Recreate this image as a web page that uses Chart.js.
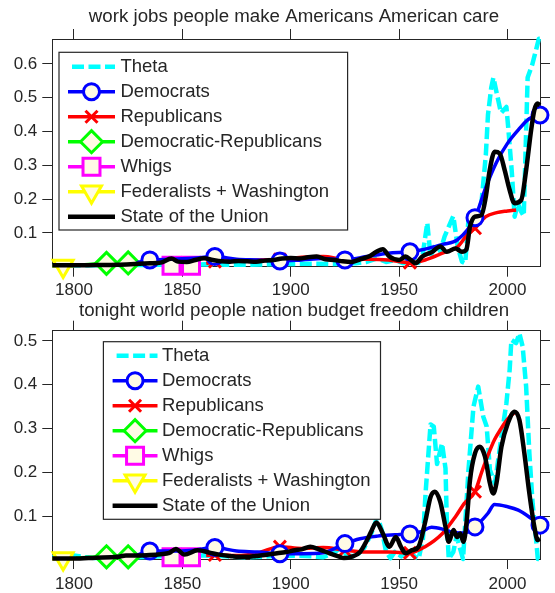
<!DOCTYPE html>
<html>
<head>
<meta charset="utf-8">
<script src="https://cdn.jsdelivr.net/npm/chart.js@4/dist/chart.umd.min.js"></script>
<style>
  html, body { margin: 0; padding: 0; background: #fff; }
  #wrap { position: relative; width: 555px; height: 593px; overflow: hidden; background: #fff; }
  .panel { position: absolute; left: 0; width: 555px; }
  #p1 { top: 0; height: 300px; }
  #p2 { top: 298px; height: 295px; }
</style>
</head>
<body>
<div id="wrap">
  <div class="panel" id="p1"><canvas id="c1"></canvas></div>
  <div class="panel" id="p2"><canvas id="c2"></canvas></div>
</div>
<script>
// ---------- axes ----------
const yearTicks = [1800, 1850, 1900, 1950, 2000];
const topYTicks = [0.1, 0.2, 0.3, 0.4, 0.5, 0.6];
const botYTicks = [0.1, 0.2, 0.3, 0.4, 0.5];

// ---------- legend labels ----------
const seriesNames = ['Theta', 'Democrats', 'Republicans', 'Democratic-Republicans',
  'Whigs', 'Federalists + Washington', 'State of the Union'];

// ---------- panel titles ----------
const topTitle = 'work jobs people make Americans American care';
const botTitle = 'tonight world people nation budget freedom children';

// ---------- years carrying a marker ----------
const demMarks = [1835, 1865, 1895, 1925, 1955, 1985, 2015];
const repMarks = [1865, 1895, 1925, 1955, 1985];
const drMarks = [1815, 1825];
const whigMarks = [1845, 1854];
const fedMarks = [1795];

// ---------- upper panel ----------
const topThetaX = [1790, 1800, 1810, 1820, 1830, 1840, 1850, 1860, 1870, 1880, 1890, 1900, 1910, 1920,
  1930, 1935, 1940, 1944, 1948, 1952, 1956, 1959, 1961, 1963, 1964.5, 1967, 1969, 1971, 1973, 1975,
  1977, 1979, 1980.5, 1982, 1984, 1986, 1988, 1990, 1991, 1992.5, 1993.5, 1995.5, 1997, 1999.5,
  2000.5, 2002, 2003.3, 2004.8, 2006.3, 2007.5, 2009.3, 2011.5, 2013.5, 2014.5, 2015];
const topThetaY = [0.003, 0.004, 0.004, 0.005, 0.005, 0.006, 0.006, 0.007, 0.006, 0.006, 0.007, 0.008, 0.009, 0.008,
  0.01, 0.014, 0.025, 0.014, 0.02, 0.01, 0.022, 0.012, 0.04, 0.13, 0.03, 0.07, 0.045, 0.09, 0.12, 0.15,
  0.06, 0.015, 0.01, 0.14, 0.16, 0.15, 0.19, 0.33, 0.45, 0.53, 0.56, 0.5, 0.455, 0.473,
  0.40, 0.28, 0.148, 0.188, 0.163, 0.15, 0.56, 0.6, 0.65, 0.675, 0.675];

const topDemX = [1829, 1835, 1845, 1855, 1865, 1875, 1885, 1895, 1905, 1915, 1925, 1935, 1945, 1955,
  1962, 1970, 1977, 1985, 1990, 1995, 2000, 2005, 2010, 2015];
const topDemY = [0.012, 0.02, 0.022, 0.025, 0.03, 0.022, 0.02, 0.017, 0.02, 0.024, 0.02, 0.03, 0.04, 0.044,
  0.052, 0.066, 0.08, 0.145, 0.235, 0.31, 0.365, 0.405, 0.438, 0.449];

const topRepX = [1861, 1865, 1875, 1885, 1895, 1905, 1915, 1925, 1935, 1945, 1955, 1962, 1970, 1977,
  1982, 1985, 1990, 1995, 2000, 2004];
const topRepY = [0.01, 0.015, 0.017, 0.02, 0.022, 0.028, 0.03, 0.022, 0.022, 0.02, 0.012, 0.02, 0.04, 0.059,
  0.099, 0.114, 0.148, 0.16, 0.165, 0.168];

const topDrX = [1801, 1805, 1810, 1815, 1820, 1825, 1829];
const topDrY = [0.004, 0.006, 0.008, 0.01, 0.011, 0.011, 0.01];

const topWhigX = [1841, 1845, 1850, 1854];
const topWhigY = [0.003, 0.003, 0.004, 0.003];

const topFedX = [1790, 1795, 1800];
const topFedY = [0.002, 0.002, 0.003];

const topSotuX = [1790, 1800, 1810, 1820, 1828, 1835, 1840, 1845, 1848, 1852, 1856, 1860, 1864, 1868,
  1872, 1876, 1880, 1884, 1888, 1892, 1896, 1900, 1904, 1908, 1912, 1916, 1920, 1924, 1928, 1932, 1936,
  1939.5, 1942.5, 1945.5, 1950, 1953, 1955.4, 1957.6, 1960.7, 1965.3, 1969, 1972, 1976, 1979, 1981,
  1982.7, 1985, 1988, 1990, 1991.8, 1994.1, 1996.4, 1998.7, 2001, 2003.2, 2006.3, 2008.6, 2010.9,
  2012.4, 2013.9, 2015];
const topSotuY = [0.004, 0.004, 0.005, 0.006, 0.008, 0.01, 0.012, 0.024, 0.015, 0.014, 0.02, 0.025, 0.02, 0.016,
  0.015, 0.017, 0.016, 0.015, 0.018, 0.02, 0.024, 0.026, 0.024, 0.028, 0.03, 0.022, 0.02, 0.016, 0.014, 0.022, 0.03,
  0.044, 0.052, 0.03, 0.02, 0.03, 0.02, 0.01, 0.03, 0.044, 0.06, 0.044, 0.054, 0.044, 0.05,
  0.118, 0.148, 0.153, 0.207, 0.286, 0.34, 0.335, 0.286, 0.227, 0.188, 0.197, 0.286, 0.404,
  0.464, 0.483, 0.478];

// ---------- lower panel ----------
const botThetaX = [1790, 1795, 1800, 1805, 1810, 1820, 1830, 1840, 1850, 1860, 1870, 1880, 1890, 1900,
  1910, 1915, 1920, 1923, 1926, 1930, 1934, 1937, 1940, 1942, 1944, 1946, 1948, 1951, 1954, 1957,
  1959, 1961, 1962.2, 1964.5, 1966, 1967.5, 1969.8, 1971.4, 1972, 1972.9, 1975, 1976.5, 1978,
  1979.5, 1982, 1984.3, 1986.5, 1988.8, 1990.4, 1991.9, 1994.2, 1997.2, 1999.5, 2001, 2001.8, 2004,
  2005.5, 2007, 2008.6, 2010.1, 2011.6, 2013.1, 2014, 2015];
const botThetaY = [0.008, 0.01, 0.012, 0.008, 0.006, 0.007, 0.008, 0.01, 0.012, 0.012, 0.01, 0.008, 0.01, 0.012,
  0.01, 0.008, 0.018, 0.03, 0.012, 0.01, 0.03, 0.06, 0.1, 0.07, 0.02, 0.006, 0.02, 0.01, 0.03, 0.01,
  0.004, 0.05, 0.153, 0.31, 0.305, 0.22, 0.267, 0.21, 0.092, 0.004, 0.02, 0.055, 0.03,
  0.004, 0.206, 0.35, 0.396, 0.328, 0.305, 0.206, 0.176, 0.282, 0.358, 0.434, 0.502, 0.495,
  0.517, 0.487, 0.396, 0.244, 0.13, 0.054, 0.004, 0.004];

const botDemX = [1829, 1835, 1845, 1855, 1865, 1875, 1885, 1895, 1905, 1915, 1925, 1932, 1940, 1948,
  1955, 1960, 1965, 1970, 1975, 1980, 1985, 1991, 1994, 2000, 2005, 2011, 2015];
const botDemY = [0.012, 0.022, 0.022, 0.024, 0.03, 0.022, 0.02, 0.016, 0.016, 0.018, 0.039, 0.05, 0.056, 0.059,
  0.061, 0.066, 0.076, 0.072, 0.064, 0.063, 0.077, 0.108, 0.128, 0.123, 0.115, 0.096, 0.081];

const botRepX = [1861, 1865, 1875, 1885, 1895, 1905, 1915, 1925, 1935, 1945, 1955, 1962, 1970, 1976,
  1980, 1985, 1988, 1991, 1994, 1997, 2000, 2004];
const botRepY = [0.012, 0.013, 0.012, 0.018, 0.032, 0.028, 0.03, 0.024, 0.02, 0.02, 0.018, 0.032, 0.062, 0.1,
  0.13, 0.157, 0.2, 0.24, 0.275, 0.3, 0.322, 0.34];

const botDrX = [1801, 1808, 1815, 1820, 1825, 1829];
const botDrY = [0.006, 0.008, 0.009, 0.009, 0.009, 0.01];

const botWhigX = [1841, 1845, 1850, 1854];
const botWhigY = [0.008, 0.008, 0.008, 0.008];

const botFedX = [1790, 1795, 1800];
const botFedY = [0.004, 0.005, 0.005];

const botSotuX = [1790, 1800, 1810, 1820, 1824, 1830, 1835, 1840, 1844, 1847, 1851, 1857, 1863, 1867,
  1872, 1876, 1880, 1884, 1888, 1892, 1898, 1902, 1905, 1909, 1913, 1918, 1922, 1924.5, 1928, 1932,
  1935, 1937, 1939.5, 1942.5, 1945.5, 1948.5, 1950.8, 1953, 1956, 1959, 1962.2, 1964.5, 1966.5,
  1969, 1971.4, 1972.9, 1975.1, 1976.7, 1978.2, 1979.7, 1981.2, 1982.7, 1985, 1987.3, 1989.6, 1991.9,
  1993.4, 1994.9, 1997.2, 2000.2, 2003.3, 2005.5, 2007.8, 2010.1, 2012.4, 2013.9, 2015];
const botSotuY = [0.005, 0.005, 0.007, 0.009, 0.012, 0.012, 0.013, 0.015, 0.018, 0.027, 0.014, 0.024, 0.018, 0.014,
  0.011, 0.009, 0.009, 0.011, 0.013, 0.016, 0.02, 0.024, 0.026, 0.032, 0.026, 0.017, 0.01, 0.006, 0.009, 0.02,
  0.045, 0.065, 0.087, 0.062, 0.032, 0.054, 0.032, 0.017, 0.024, 0.032, 0.092, 0.145, 0.157,
  0.134, 0.077, 0.043, 0.07, 0.054, 0.062, 0.043, 0.092, 0.183, 0.244, 0.259, 0.237, 0.176,
  0.153, 0.176, 0.259, 0.313, 0.339, 0.32, 0.244, 0.153, 0.077, 0.047, 0.05];

// ---------- look ----------
const FONT = '"Liberation Sans", Arial, Helvetica, sans-serif';
const INK = '#262626';
const CREAM = '#fffbe5';

const pts = (xs, ys) => xs.map((x, i) => ({ x, y: ys[i] }));

// one entry per legend row, same order as seriesNames
const seriesLook = [
  { color: '#00ffff', width: 4.5, dash: [12, 4.5], order: 6 },
  { color: '#0000ff', width: 3.5, marker: 'circle', r: 8, rot: 0, marks: demMarks, order: 1, smooth: true },
  { color: '#ff0000', width: 3.5, marker: 'crossRot', r: 8.5, rot: 0, marks: repMarks, order: 2, smooth: true },
  { color: '#00ff00', width: 3.5, marker: 'rectRot', r: 11, rot: 0, marks: drMarks, order: 3, smooth: true },
  { color: '#ff00ff', width: 3.5, marker: 'rect', r: 12, rot: 0, marks: whigMarks, order: 4, smooth: true },
  { color: '#ffff00', width: 3.5, marker: 'triangle', r: 11.5, rot: 180, marks: fedMarks, order: 5, smooth: true },
  { color: '#000000', width: 4.5, order: 0, smooth: true }
];

function makeDatasets(series) {
  return series.map((data, i) => {
    const look = seriesLook[i];
    const ds = {
      label: seriesNames[i],
      data,
      borderColor: look.color,
      borderWidth: look.width,
      borderDash: look.dash || [],
      backgroundColor: look.color,
      fill: false,
      order: look.order,
      clip: false,
      tension: look.smooth ? 0.4 : 0,
      cubicInterpolationMode: look.smooth ? 'monotone' : 'default',
      borderCapStyle: 'butt',
      borderJoinStyle: 'round',
      pointStyle: look.marker || 'circle',
      pointRotation: look.rot || 0,
      pointBorderColor: look.color,
      pointBackgroundColor: CREAM,
      pointBorderWidth: 3,
      pointRadius: (c) => (look.marks && c.raw && look.marks.includes(c.raw.x)) ? look.r : 0,
      pointHoverRadius: 0
    };
    ds._look = look;
    return ds;
  });
}

// panel heading plus a framed legend with a line sample and marker per series
const panelDecor = {
  id: 'panelDecor',
  afterDraw(chart, args, o) {
    const ctx = chart.ctx;
    ctx.save();
    ctx.fillStyle = INK;
    ctx.font = '18.7px ' + FONT;
    ctx.textAlign = 'center';
    ctx.textBaseline = 'middle';
    ctx.fillText(o.title, o.titleX, o.titleY);

    const L = o.legend;
    ctx.fillStyle = '#ffffff';
    ctx.fillRect(L.x0, L.y0, L.x1 - L.x0, L.y1 - L.y0);
    ctx.strokeStyle = INK;
    ctx.lineWidth = 1.2;
    ctx.strokeRect(L.x0, L.y0, L.x1 - L.x0, L.y1 - L.y0);
    chart.data.datasets.forEach((ds, i) => {
      const look = ds._look;
      const y = L.row0 + i * L.step;
      ctx.save();
      ctx.beginPath();
      ctx.setLineDash(look.dash || []);
      if (look.dash) ctx.lineDashOffset = -4;
      ctx.strokeStyle = look.color;
      ctx.lineWidth = look.width;
      ctx.lineCap = 'butt';
      ctx.moveTo(L.lx0, y);
      ctx.lineTo(L.lx1, y);
      ctx.stroke();
      ctx.setLineDash([]);
      if (look.marker) {
        ctx.strokeStyle = look.color;
        ctx.fillStyle = CREAM;
        ctx.lineWidth = 3;
        Chart.helpers.drawPoint(ctx, {
          pointStyle: look.marker, rotation: look.rot || 0, radius: look.r, borderWidth: 3
        }, (L.lx0 + L.lx1) / 2, y);
      }
      ctx.restore();
      ctx.fillStyle = INK;
      ctx.font = '18.5px ' + FONT;
      ctx.textBaseline = 'middle';
      ctx.textAlign = 'left';
      ctx.fillText(ds.label, L.tx, y + 0.5);
    });
    ctx.restore();
  }
};

function scaleSet(cfg) {
  const tickFont = { family: FONT, size: 17 };
  const gridOpts = { drawOnChartArea: false, drawTicks: true, tickLength: 10, color: INK, lineWidth: 1 };
  const borderOpts = { display: true, color: INK, width: 1 };
  const yearBuild = (s) => { s.ticks = yearTicks.map(v => ({ value: v })); };
  const valBuild = (s) => { s.ticks = cfg.yTicks.map(v => ({ value: v })); };
  return {
    x: {
      type: 'linear', position: 'bottom', min: 1790, max: 2015,
      afterBuildTicks: yearBuild,
      afterFit: (s) => { s.height = cfg.xAxisH; },
      grid: gridOpts, border: borderOpts,
      ticks: { padding: cfg.xPad, color: INK, font: tickFont, maxRotation: 0, minRotation: 0,
        autoSkip: false, callback: (v) => String(v) }
    },
    xTop: {
      type: 'linear', position: 'top', min: 1790, max: 2015,
      afterBuildTicks: yearBuild,
      afterFit: (s) => { s.height = 10; },
      grid: gridOpts, border: borderOpts,
      ticks: { display: false }
    },
    y: {
      type: 'linear', position: 'left', min: cfg.yMin, max: cfg.yMax,
      afterBuildTicks: valBuild,
      afterFit: (s) => { s.width = 52.3; },
      grid: gridOpts, border: borderOpts,
      ticks: { padding: 5, color: INK, font: tickFont, callback: (v) => v.toFixed(1) }
    },
    yRight: {
      type: 'linear', position: 'right', min: cfg.yMin, max: cfg.yMax,
      afterBuildTicks: valBuild,
      afterFit: (s) => { s.width = 9.3; },
      grid: gridOpts, border: borderOpts,
      ticks: { display: false }
    }
  };
}

function buildPanel(canvasId, title, series, cfg) {
  return new Chart(document.getElementById(canvasId), {
    type: 'line',
    data: { datasets: makeDatasets(series) },
    options: {
      responsive: true,
      maintainAspectRatio: false,
      animation: false,
      events: [],
      layout: { padding: { left: 0, right: 0, top: cfg.headSpace, bottom: 0 } },
      plugins: {
        legend: { display: false },
        tooltip: { enabled: false },
        title: { display: false },
        panelDecor: { title, titleX: 294, titleY: cfg.titleY, legend: cfg.legend }
      },
      scales: scaleSet(cfg)
    },
    plugins: [panelDecor]
  });
}

buildPanel('c1', topTitle, [
  pts(topThetaX, topThetaY), pts(topDemX, topDemY), pts(topRepX, topRepY), pts(topDrX, topDrY),
  pts(topWhigX, topWhigY), pts(topFedX, topFedY), pts(topSotuX, topSotuY)
], {
  yMin: 0, yMax: 0.674, yTicks: topYTicks, xAxisH: 33.3, xPad: 3.5,
  headSpace: 29, titleY: 16.8,
  legend: { x0: 59, y0: 52.3, x1: 347.6, y1: 230, lx0: 68, lx1: 115, tx: 120.4, row0: 66.7, step: 25 }
});

buildPanel('c2', botTitle, [
  pts(botThetaX, botThetaY), pts(botDemX, botDemY), pts(botRepX, botRepY), pts(botDrX, botDrY),
  pts(botWhigX, botWhigY), pts(botFedX, botFedY), pts(botSotuX, botSotuY)
], {
  yMin: 0.004, yMax: 0.523, yTicks: botYTicks, xAxisH: 34, xPad: 5.5,
  headSpace: 22.7, titleY: 12.8,
  legend: { x0: 103.4, y0: 43.7, x1: 380.5, y1: 221.3, lx0: 112.6, lx1: 157.5, tx: 162, row0: 57.7, step: 25 }
});
</script>
</body>
</html>
